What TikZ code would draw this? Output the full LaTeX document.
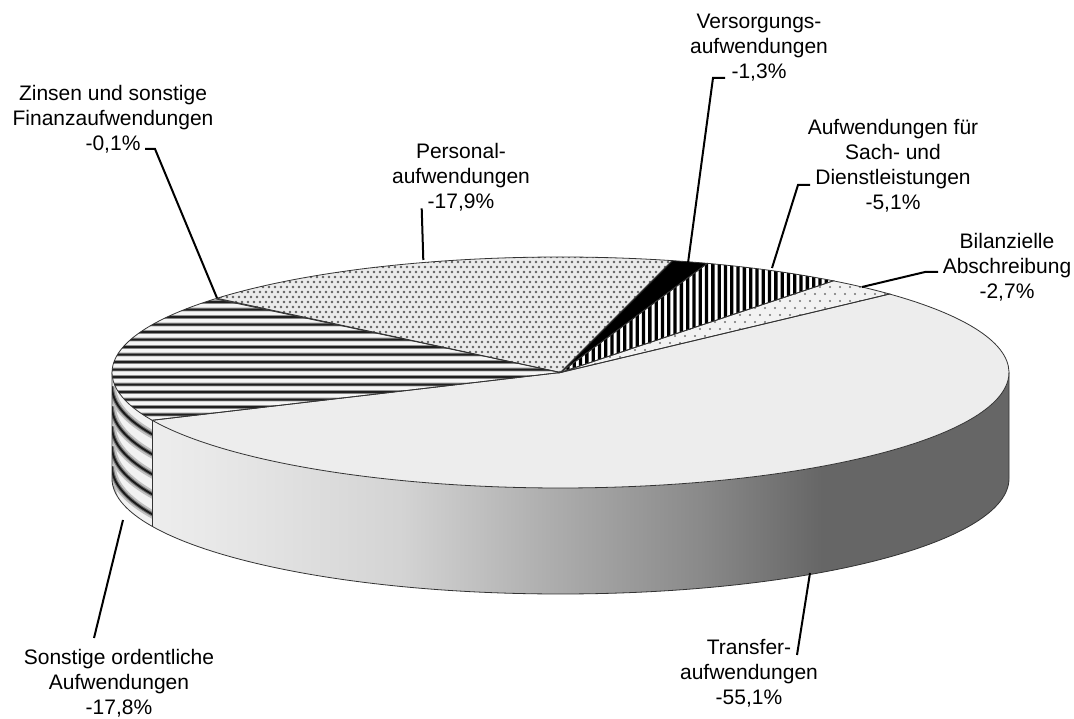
\documentclass[tikz,border=0pt]{standalone}
\usepackage{fontspec}
\setmainfont{Liberation Sans}

\definecolor{sA}{gray}{0.93}
\definecolor{sB}{gray}{0.90}
\definecolor{sC}{gray}{0.83}
\definecolor{sD}{gray}{0.68}
\definecolor{sE}{gray}{0.54}
\definecolor{sF}{gray}{0.40}
\pgfdeclarehorizontalshading{sideshade}{100bp}{color(0bp)=(sA); color(25bp)=(sA); color(30bp)=(sB); color(39.5bp)=(sC); color(48.2bp)=(sD); color(57bp)=(sE); color(64.1bp)=(sF); color(100bp)=(sF)}

\def\sl#1#2{(C) -- ++(#1:448.5pt and 115.5pt) arc[start angle=#1,end angle=#2,x radius=448.5pt,y radius=115.5pt] -- cycle}

\begin{document}
\begin{tikzpicture}[x=1pt,y=1pt,
  edge/.style={draw=black!80,line width=0.8pt},
  conn/.style={draw=black,line width=2pt},
  lbl/.style={align=center,font=\fontsize{21}{25}\selectfont,inner sep=0pt}]
\useasboundingbox (0,0) rectangle (1074,718);
\fill[white] (0,0) rectangle (1074,718);
\coordinate (C) at (560.5,345.5);

% side: Transfer
\shade[shading=sideshade] (C) ++(204.44:448.5pt and 115.5pt) arc[start angle=204.44,end angle=360,x radius=448.5pt,y radius=115.5pt] -- ++(0,-106) arc[start angle=360,end angle=204.44,x radius=448.5pt,y radius=115.5pt] -- cycle;
% side: Sonstige
\fill[black!5] (C) ++(180:448.5pt and 115.5pt) arc[start angle=180,end angle=204.44,x radius=448.5pt,y radius=115.5pt] -- ++(0,-106) arc[start angle=204.44,end angle=180,x radius=448.5pt,y radius=115.5pt] -- cycle;
\begin{scope}
\clip (C) ++(180:448.5pt and 115.5pt) arc[start angle=180,end angle=204.44,x radius=448.5pt,y radius=115.5pt] -- ++(0,-106) arc[start angle=204.44,end angle=180,x radius=448.5pt,y radius=115.5pt] -- cycle;
\foreach \k in {14,34,54,74,94,114} {
  \draw[black!25,line width=8pt] ([yshift=-\k pt]C) ++(180:448.5pt and 115.5pt) arc[start angle=180,end angle=210,x radius=448.5pt,y radius=115.5pt];
  \draw[black!55,line width=4pt] ([yshift=-\k pt]C) ++(180:448.5pt and 115.5pt) arc[start angle=180,end angle=210,x radius=448.5pt,y radius=115.5pt];
  \draw[black!90,line width=1.8pt] ([yshift=-\k pt]C) ++(180:448.5pt and 115.5pt) arc[start angle=180,end angle=210,x radius=448.5pt,y radius=115.5pt];
}
\end{scope}
\draw[edge] (C) ++(180:448.5pt and 115.5pt) -- ++(0,-106) arc[start angle=180,end angle=360,x radius=448.5pt,y radius=115.5pt] -- ++(0,106);
\draw[edge] (C) ++(204.44:448.5pt and 115.5pt) -- ++(0,-106);

% top slices
% Personal
\fill[black!8] \sl{140}{75.56};
\begin{scope}
\clip \sl{140}{75.56};
\foreach \j in {0,...,24} {
  \pgfmathsetmacro\xo{215+3*mod(\j,2)}
  \pgfmathsetmacro\yo{341+5*\j}
  \fill[black!62] \foreach \i in {0,...,77} { ({\xo+6*\i},{\yo}) circle[radius=1.3pt] };
}
\end{scope}
% Versorgung
\fill[black] \sl{75.56}{70.88};
% Sach
\fill[white] \sl{70.88}{52.52};
\begin{scope}
\clip \sl{70.88}{52.52};
\fill[black] \foreach \i in {0,...,44} { ({560+6.3*\i},340) rectangle ++(3.3,130) };
\end{scope}
% Bilanz
\fill[black!5] \sl{52.52}{42.8};
\begin{scope}
\clip \sl{52.52}{42.8};
\foreach \j in {0,...,14} {
  \pgfmathsetmacro\xo{560+5*mod(\j,2)}
  \pgfmathsetmacro\yo{347+7*\j}
  \fill[black!55] \foreach \i in {0,...,34} { ({\xo+10*\i},{\yo}) circle[radius=1.15pt] };
}
\end{scope}
% Transfer
\fill[black!7] \sl{42.8}{-155.56};
% Sonstige
\fill[black!4] \sl{-155.56}{-219.64};
\begin{scope}
\clip \sl{-155.56}{-219.64};
\fill[black!42] \foreach \j in {0,...,17} { (108,{294+7.5*\j}) rectangle ++(460,3.8) };
\fill[black!88] \foreach \j in {0,...,17} { (108,{294.9+7.5*\j}) rectangle ++(460,2) };
\end{scope}
% Zinsen
\fill[black!60] \sl{-219.64}{-220};
\draw[edge] \sl{140}{75.56};
\draw[edge] \sl{75.56}{70.88};
\draw[edge] \sl{70.88}{52.52};
\draw[edge] \sl{52.52}{42.8};
\draw[edge] \sl{42.8}{-155.56};
\draw[edge] \sl{-155.56}{-219.64};

% labels
\node[lbl] (lz) at (113,599) {Zinsen und sonstige\\Finanzaufwendungen\\-0,1\%};
\node[lbl] (lp) at (461,541) {Personal-\\aufwendungen\\-17,9\%};
\node[lbl] (lv) at (759,670) {Versorgungs-\\aufwendungen\\-1,3\%};
\node[lbl] (ls) at (893,552) {Aufwendungen für\\Sach- und\\Dienstleistungen\\-5,1\%};
\node[lbl] (lb) at (1007,451) {Bilanzielle\\Abschreibung\\-2,7\%};
\node[lbl] (lo) at (119,35) {Sonstige ordentliche\\Aufwendungen\\-17,8\%};
\node[lbl] (lt) at (749,45) {Transfer-\\aufwendungen\\-55,1\%};

% connectors
\coordinate (z1) at (145,569); \coordinate (z2) at (155,569); \coordinate (z3) at (217,420);
\coordinate (p1) at (421.7,509.7); \coordinate (p2) at (423.3,458);
\coordinate (v1) at (725,640); \coordinate (v2) at (713,640); \coordinate (v3) at (688,455);
\coordinate (s1) at (810,533); \coordinate (s2) at (798,533); \coordinate (s3) at (772,450);
\coordinate (b1) at (938,446); \coordinate (b2) at (925,446); \coordinate (b3) at (862,431);
\coordinate (o1) at (94,80); \coordinate (o2) at (123,198);
\coordinate (t1) at (797,63); \coordinate (t2) at (810,145);
\draw[conn] (z1) -- (z2) -- (z3);
\draw[conn] (p1) -- (p2);
\draw[conn] (v1) -- (v2) -- (v3);
\draw[conn] (s1) -- (s2) -- (s3);
\draw[conn] (b1) -- (b2) -- (b3);
\draw[conn] (o1) -- (o2);
\draw[conn] (t1) -- (t2);
\end{tikzpicture}
\end{document}
